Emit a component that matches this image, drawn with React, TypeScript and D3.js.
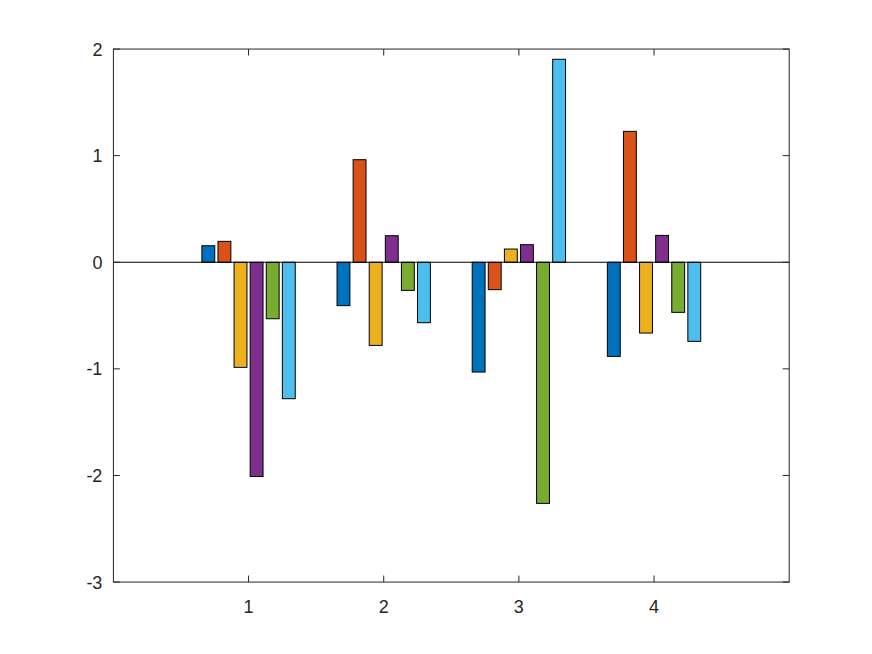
import React from "react";
import * as d3 from "d3";

const categories = [1, 2, 3, 4];
const seriesColors = ["#0072BD", "#D95319", "#EDB120", "#7E2F8E", "#77AC30", "#4DBEEE"];
const series1 = [0.155, -0.407, -1.03, -0.883];
const series2 = [0.196, 0.962, -0.257, 1.228];
const series3 = [-0.986, -0.78, 0.124, -0.664];
const series4 = [-2.01, 0.249, 0.165, 0.252];
const series5 = [-0.53, -0.264, -2.262, -0.47];
const series6 = [-1.28, -0.567, 1.904, -0.742];
const allSeries = [series1, series2, series3, series4, series5, series6];
const yTicks = [-3, -2, -1, 0, 1, 2];
const xTicks = [1, 2, 3, 4];

export default function App() {
  const W = 872, H = 654;
  const left = 113.4, right = 789.2, top = 49.05, bottom = 582.06;
  const x = d3.scaleLinear().domain([0, 5]).range([left, right]);
  const y = d3.scaleLinear().domain([-3, 2]).range([bottom, top]);
  const n = allSeries.length;
  const step = 0.1191;
  const bw = step * 0.8;
  const axisColor = "#262626";
  const tickLen = 6.5;
  const font = "'Liberation Sans', Arial, Helvetica, sans-serif";
  const fs = 18;

  return (
    <svg width={W} height={H} style={{ position: "absolute", left: 0, top: 0, background: "#fff" }}>
      <rect x={0} y={0} width={W} height={H} fill="#fff" />
      {allSeries.map((s, si) =>
        s.map((v, ci) => {
          const cx = categories[ci] + (si - (n - 1) / 2) * step;
          const x0 = x(cx - bw / 2);
          const x1 = x(cx + bw / 2);
          const y0 = y(Math.max(0, v));
          const y1 = y(Math.min(0, v));
          return (
            <rect
              key={`${si}-${ci}`}
              x={x0}
              y={y0}
              width={x1 - x0}
              height={y1 - y0}
              fill={seriesColors[si]}
              stroke="#000"
              strokeWidth={1}
            />
          );
        })
      )}
      <line x1={left} x2={right} y1={y(0)} y2={y(0)} stroke="#000" strokeWidth={1} />
      <rect x={left} y={top} width={right - left} height={bottom - top} fill="none" stroke={axisColor} strokeWidth={1} />
      {yTicks.map((t) => (
        <g key={`y${t}`}>
          <line x1={left} x2={left + tickLen} y1={y(t)} y2={y(t)} stroke={axisColor} />
          <line x1={right} x2={right - tickLen} y1={y(t)} y2={y(t)} stroke={axisColor} />
          <text x={left - 11} y={y(t) + 6.5} textAnchor="end" fontSize={fs} fontFamily={font} fill={axisColor}>
            {t}
          </text>
        </g>
      ))}
      {xTicks.map((t) => (
        <g key={`x${t}`}>
          <line x1={x(t)} x2={x(t)} y1={bottom} y2={bottom - tickLen} stroke={axisColor} />
          <line x1={x(t)} x2={x(t)} y1={top} y2={top + tickLen} stroke={axisColor} />
          <text x={x(t)} y={bottom + 31} textAnchor="middle" fontSize={fs} fontFamily={font} fill={axisColor}>
            {t}
          </text>
        </g>
      ))}
    </svg>
  );
}
